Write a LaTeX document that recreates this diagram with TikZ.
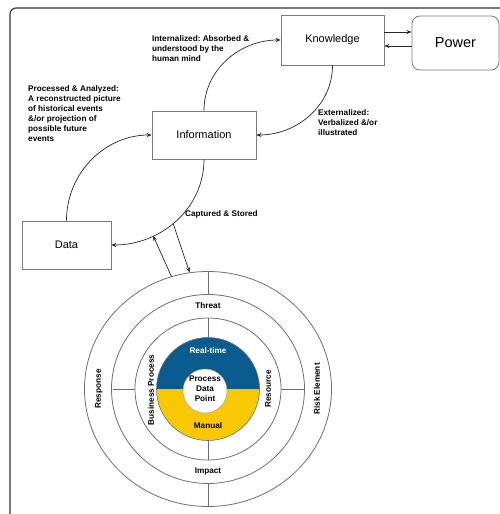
\documentclass[tikz,border=0pt]{standalone}
\usepackage{fontspec}
\setmainfont{Liberation Sans}
\frenchspacing
\usetikzlibrary{arrows.meta,shapes.geometric}
\definecolor{ringblue}{HTML}{0B5C8E}
\definecolor{ringyellow}{HTML}{F8C800}
\definecolor{boxline}{HTML}{7A7A7A}
\definecolor{ringline}{HTML}{6E6E6E}
\definecolor{frameline}{HTML}{333333}
\begin{document}
\begin{tikzpicture}[x=1pt,y=-1pt,
  box/.style={draw=boxline,line width=0.8pt,inner sep=0pt,font=\fontsize{11}{13}\selectfont},
  lbl/.style={inner sep=0pt,align=left,font=\fontsize{8.2}{10}\selectfont\bfseries},
  flow/.style={draw=black!85,line width=0.7pt,-{Stealth[length=5pt,width=4pt]}},
  ring/.style={draw=ringline,line width=0.8pt},
  ringlbl/.style={inner sep=0pt,font=\fontsize{8.2}{10}\selectfont\bfseries}]
\useasboundingbox (0,0) rectangle (500,514);
% frame
\draw[frameline,line width=1.1pt,rounded corners=6pt] (10,530) -- (10,8) -- (520,8);

% boxes
\node[box,minimum width=103pt,minimum height=50pt] (know) at (332.5,40) {Knowledge};
\node[box,rounded corners=8pt,minimum width=87pt,minimum height=54pt,font=\fontsize{14.5}{16}\selectfont] (power) at (455.5,43) {Power};
\node[box,minimum width=104pt,minimum height=48pt] (info) at (204,135) {Information};
\node[box,minimum width=89pt,minimum height=48pt] (data) at (66.5,245) {Data};

% arcs
\draw[flow] (data.north) to[out=90,in=180] (info.west);
\draw[flow] (info.north) to[out=90,in=180] (know.west);
\draw[flow] (know.south) to[out=-90,in=0] (info.east);
\draw[flow] (info.south) to[out=-90,in=0] coordinate[pos=0.53] (capA) coordinate[pos=0.7] (capB) (data.east);

% knowledge <-> power
\draw[flow] ([yshift=8pt]know.east) -- ([yshift=8pt]know.east -| power.west);
\draw[flow] ([yshift=-6pt]know.east -| power.west) -- ([yshift=-6pt]know.east);

% labels
\node[lbl,anchor=west] (internal) at (152,49) {Internalized: Absorbed \&\\understood by the\\human mind};
\node[lbl,anchor=west] (processed) at (28,114) {Processed \& Analyzed:\\A reconstructed picture\\of historical events\\\&/or projection of\\possible future\\events};
\node[lbl,anchor=west] (external) at (318,123) {Externalized:\\Verbalized \&/or\\illustrated};
\node[lbl,anchor=west] (captured) at (185,214) {Captured \& Stored};

% rings
\node[ring,ellipse,minimum width=247pt,minimum height=235pt,inner sep=0pt] (outer) at (208,389) {};
\draw[ring] (208,389) ellipse [x radius=96.5, y radius=94.5];
\draw[ring] (208,389) ellipse [x radius=73, y radius=71];
\begin{scope}
  \clip (150,330) rectangle (270,389);
  \fill[ringblue] (208,389) circle [radius=51.5];
\end{scope}
\begin{scope}
  \clip (150,389) rectangle (270,450);
  \fill[ringyellow] (208,389) circle [radius=51.5];
\end{scope}
\draw[draw=ringline,line width=0.6pt] (208,389) circle [radius=51.5];
\draw[draw=ringline!60,line width=0.5pt,fill=white] (205,391) circle [radius=22];

% spokes
\draw[ring] (208,271.5) -- (208,294.5);
\draw[ring] (208,483.5) -- (208,506.5);
\draw[ring] (208,318) -- (208,337.5);
\draw[ring] (208,440.5) -- (208,460);
\draw[ring] (112.5,389) -- (135,389);
\draw[ring] (281,389) -- (304.5,389);

% ring labels
\node[ringlbl] (threat) at (208,306) {Threat};
\node[ringlbl] (impact) at (208,472) {Impact};
\node[ringlbl,rotate=90] (response) at (99,389) {Response};
\node[ringlbl,rotate=90] (riskel) at (317,389) {Risk Element};
\node[ringlbl,rotate=90] (bizproc) at (151,390) {Business Process};
\node[ringlbl,rotate=90] (resource) at (268,389) {Resource};
\node[ringlbl,text=white] (realtime) at (208,351) {Real-time};
\node[ringlbl] (manual) at (208,426) {Manual};
\node[ringlbl,align=center] (pdp) at (205,389) {Process\\Data\\Point};

% capture arrows
\draw[flow] (outer.108) -- (capB);
\draw[flow] (capA) -- (outer.99);
\end{tikzpicture}
\end{document}
